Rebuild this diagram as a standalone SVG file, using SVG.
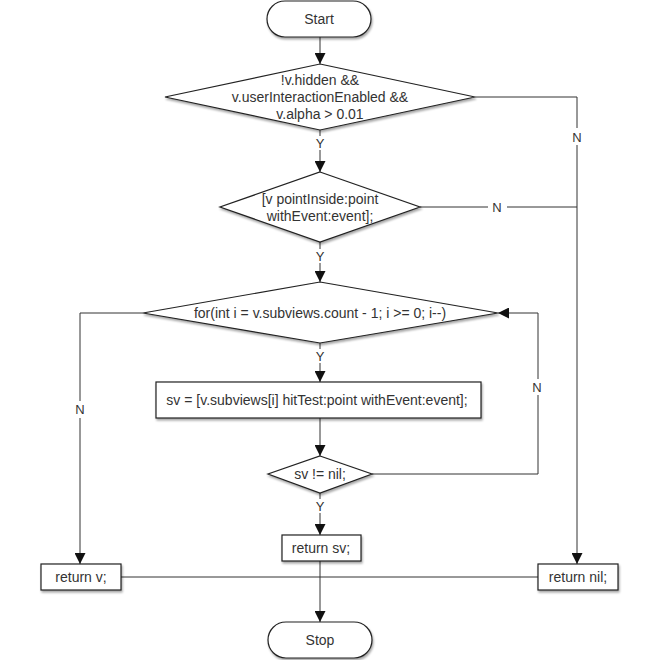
<svg xmlns="http://www.w3.org/2000/svg" width="659" height="660" viewBox="0 0 659 660">
<defs>
<marker id="ah" markerWidth="11" markerHeight="11" refX="11" refY="5.5" orient="auto" markerUnits="userSpaceOnUse">
<path d="M0,0 L11,5.5 L0,11 Z" fill="#111"/>
</marker>
<filter id="sh" x="-10%" y="-10%" width="130%" height="140%">
<feDropShadow dx="1" dy="2" stdDeviation="1.2" flood-color="#000" flood-opacity="0.35"/>
</filter>
</defs>
<style>
.shape{fill:#fff;stroke:#222;stroke-width:1.2;filter:url(#sh)}
.t{font-family:"Liberation Sans",Arial,sans-serif;font-size:14px;fill:#333;text-anchor:middle}
.lbl{font-family:"Liberation Sans",Arial,sans-serif;font-size:13px;fill:#333;text-anchor:middle}
.c{fill:none;stroke:#333;stroke-width:1}
.ca{fill:none;stroke:#333;stroke-width:1;marker-end:url(#ah)}
</style>
<rect width="659" height="660" fill="#fff"/>
<g id="connectors">
<path class="ca" d="M320,37 V64"/>
<path class="c" d="M475,97 H577 V128"/>
<path class="ca" d="M577,145 V564"/>
<path class="c" d="M320,130 V136"/>
<path class="ca" d="M320,150 V172"/>
<path class="c" d="M420,207 H488"/>
<path class="c" d="M507,207 H577"/>
<path class="c" d="M320,242 V249"/>
<path class="ca" d="M320,263 V282"/>
<path class="c" d="M143,313 H80 V401"/>
<path class="ca" d="M80,418 V564"/>
<path class="c" d="M320,343 V349"/>
<path class="ca" d="M320,363 V382"/>
<path class="ca" d="M320,418 V456"/>
<path class="c" d="M372,474 H538 V395"/>
<path class="ca" d="M538,379 V313 H498"/>
<path class="c" d="M320,493 V499"/>
<path class="ca" d="M320,513 V535"/>
<path class="c" d="M121,577 H538"/>
<path class="ca" d="M320,561 V622"/>
<text class="lbl" x="577" y="142">N</text>
<text class="lbl" x="320" y="148">Y</text>
<text class="lbl" x="497" y="212">N</text>
<text class="lbl" x="320" y="261">Y</text>
<text class="lbl" x="80" y="414">N</text>
<text class="lbl" x="320" y="361">Y</text>
<text class="lbl" x="537" y="392">N</text>
<text class="lbl" x="320" y="511">Y</text>
</g>
<g id="start">
<rect class="shape" x="267" y="1" width="104" height="36" rx="18" ry="18"/>
<text class="t" x="319" y="24">Start</text>
</g>
<g id="cond1">
<polygon class="shape" points="320,64 475,97 320,130 165,97"/>
<text class="t" x="320" y="85">!v.hidden &amp;&amp;</text>
<text class="t" x="320" y="102">v.userInteractionEnabled &amp;&amp;</text>
<text class="t" x="320" y="119">v.alpha &gt; 0.01</text>
</g>
<g id="cond2">
<polygon class="shape" points="320,172 420,207 320,242 220,207"/>
<text class="t" x="320" y="204">[v pointInside:point</text>
<text class="t" x="320" y="221">withEvent:event];</text>
</g>
<g id="loop">
<polygon class="shape" points="320,282 498,313 320,343 143,313"/>
<text class="t" x="320" y="318">for(int i = v.subviews.count - 1; i &gt;= 0; i--)</text>
</g>
<g id="hittest">
<rect class="shape" x="156" y="382" width="325" height="36"/>
<text class="t" x="317" y="405">sv = [v.subviews[i] hitTest:point withEvent:event];</text>
</g>
<g id="cond3">
<polygon class="shape" points="320,456 372,474 320,493 268,474"/>
<text class="t" x="320" y="479">sv != nil;</text>
</g>
<g id="returnsv">
<rect class="shape" x="282" y="535" width="79" height="26"/>
<text class="t" x="321" y="553">return sv;</text>
</g>
<g id="returnv">
<rect class="shape" x="41" y="564" width="80" height="26"/>
<text class="t" x="81" y="582">return v;</text>
</g>
<g id="returnnil">
<rect class="shape" x="538" y="564" width="80" height="26"/>
<text class="t" x="578" y="582">return nil;</text>
</g>
<g id="stop">
<rect class="shape" x="268" y="622" width="104" height="36" rx="18" ry="18"/>
<text class="t" x="320" y="645">Stop</text>
</g>
</svg>
